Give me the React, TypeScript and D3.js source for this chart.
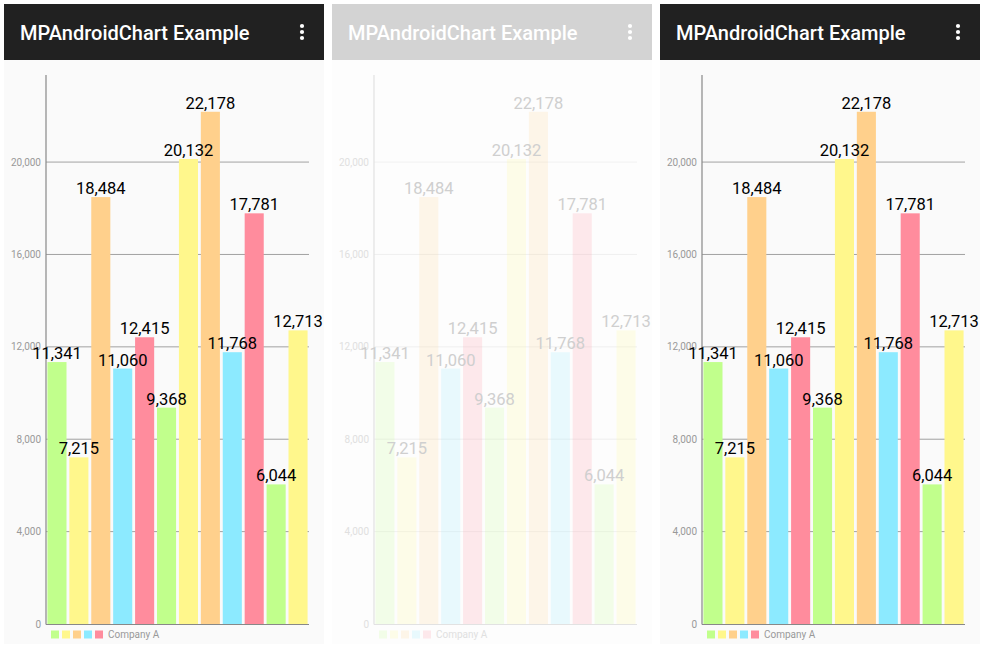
import React from 'react';
import * as d3 from 'd3';

const values = [11341, 7215, 18484, 11060, 12415, 9368, 20132, 22178, 11768, 17781, 6044, 12713];
const barColors = ['#c1ff8c', '#fff78c', '#ffd08c', '#8ceaff', '#ff8c9d'];
const yTicks = [0, 4000, 8000, 12000, 16000, 20000];
const legendLabel = 'Company A';
const title = 'MPAndroidChart Example';

const fmt = d3.format(',');

const Panel: React.FC<{ x0: number; faded?: boolean }> = ({ x0, faded }) => {
  const x = d3.scaleBand<number>()
    .domain(d3.range(values.length))
    .range([46, 309])
    .paddingInner(0.13)
    .paddingOuter(0.065);
  const y = d3.scaleLinear().domain([0, 23770]).range([624, 75]);

  const op = faded ? 0.18 : 1;
  const axisCol = faded ? '#e2e2e2' : '#888';
  const gridCol = faded ? '#ececec' : '#8a8a8a';
  const tickCol = faded ? '#e0e0e0' : '#999';
  const valCol = faded ? '#cfcfcf' : '#000';

  return (
    <g transform={`translate(${x0 - 4},0)`}>
      <rect x={4} y={60} width={320} height={584} fill={faded ? '#fdfdfd' : '#fafafa'} />
      <rect x={4} y={4} width={320} height={56} fill={faded ? '#d3d3d3' : '#212121'} />
      <text x={20} y={40} fill="#fff" fontFamily="Roboto" fontWeight={500} fontSize={20}>{title}</text>
      {[26, 32, 38].map(cy => <circle key={cy} cx={302} cy={cy} r={2.1} fill="#fff" />)}

      {yTicks.filter(t => t > 0).map(t => (
        <line key={t} x1={46} x2={309} y1={y(t)} y2={y(t)} stroke={gridCol} strokeWidth={0.8} />
      ))}
      {yTicks.map(t => (
        <text key={t} x={41} y={y(t)} dy="0.35em" textAnchor="end" fontFamily="Roboto" fontSize={10} fill={tickCol}>
          {fmt(t)}
        </text>
      ))}

      {values.map((v, i) => (
        <rect key={i} x={x(i)} y={y(v)} width={x.bandwidth()} height={y(0) - y(v)}
          fill={barColors[i % barColors.length]} fillOpacity={op} />
      ))}
      <line x1={46} x2={46} y1={75} y2={624.5} stroke={axisCol} strokeWidth={1.2} />
      <line x1={46} x2={309} y1={624.5} y2={624.5} stroke={axisCol} strokeWidth={1.2} />

      {values.map((v, i) => (
        <text key={i} x={(x(i) ?? 0) + x.bandwidth() / 2} y={y(v) - 3} textAnchor="middle"
          fontFamily="Roboto" fontSize={16.5} fill={valCol}>
          {fmt(v)}
        </text>
      ))}

      {barColors.map((c, i) => (
        <rect key={c} x={51 + i * 11} y={630.5} width={8} height={8} fill={c} fillOpacity={op} />
      ))}
      <text x={108} y={638} fontFamily="Roboto" fontSize={10} fill={tickCol}>{legendLabel}</text>
    </g>
  );
};

export default function App() {
  return (
    <svg width={984} height={648} style={{ position: 'absolute', left: 0, top: 0, background: '#fff' }}>
      <Panel x0={4} />
      <Panel x0={332} faded />
      <Panel x0={660} />
    </svg>
  );
}
